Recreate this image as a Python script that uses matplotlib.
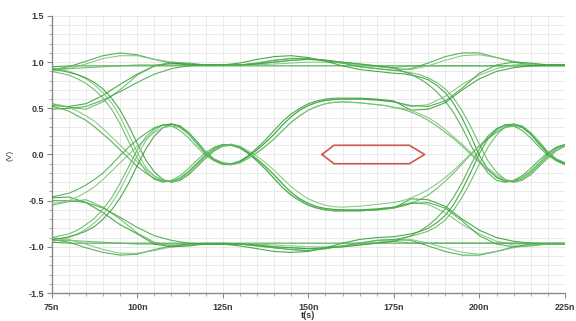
import matplotlib
matplotlib.use("Agg")
import matplotlib.pyplot as plt
from matplotlib.ticker import MultipleLocator, FixedLocator

# ---------------- data ----------------
# time grids (ns) for the three sections; coarse = 5 ns, fine = 2.5 ns
t_left_coarse = [75, 80, 85, 90, 95, 100, 105, 110, 115, 120, 125]
t_left_fine = [75, 77.5, 80, 82.5, 85, 87.5, 90, 92.5, 95, 97.5, 100,
               102.5, 105, 107.5, 110, 112.5, 115, 117.5, 120, 122.5, 125]
t_mid_coarse = [130, 135, 140, 145, 150, 155, 160, 165, 170, 175]
t_mid_fine = [127.5, 130, 132.5, 135, 137.5, 140, 142.5, 145, 147.5, 150,
              152.5, 155, 157.5, 160, 162.5, 165, 167.5, 170, 172.5, 175]
t_right_coarse = [180, 185, 190, 195, 200, 205, 210, 215, 220, 225]
t_right_fine = [177.5, 180, 182.5, 185, 187.5, 190, 192.5, 195, 197.5, 200,
                202.5, 205, 207.5, 210, 212.5, 215, 217.5, 220, 222.5, 225]

# left section, upper start
UL_flat1 = [0.95, 0.96, 0.96, 0.96, 0.96, 0.96, 0.96, 0.96, 0.96, 0.96, 0.96]
UL_flat2 = [0.93, 0.93, 0.94, 0.95, 0.96, 0.97, 0.97, 0.97, 0.97, 0.97, 0.97]
UL_arch1 = [0.92, 0.95, 1.01, 1.07, 1.10, 1.08, 1.03, 0.99, 0.97, 0.965, 0.965]
UL_arch2 = [0.91, 0.93, 0.98, 1.04, 1.07, 1.07, 1.03, 1.00, 0.98, 0.97, 0.97]
UL_rise1 = [0.53, 0.52, 0.55, 0.64, 0.76, 0.87, 0.96, 0.99, 0.98, 0.97, 0.97]
UL_rise2 = [0.55, 0.51, 0.49, 0.57, 0.70, 0.86, 0.96, 1.00, 0.99, 0.97, 0.97]
UL_rise3 = [0.49, 0.50, 0.52, 0.59, 0.68, 0.78, 0.87, 0.93, 0.96, 0.97, 0.97]
UL_fall1 = [0.94, 0.925, 0.90, 0.865, 0.82, 0.755, 0.67, 0.56, 0.41, 0.22, 0.02,
            -0.14, -0.24, -0.29, -0.29, -0.25, -0.18, -0.09, 0.00, 0.07, 0.105]
UL_fall2 = [0.92, 0.91, 0.89, 0.865, 0.83, 0.78, 0.71, 0.61, 0.48, 0.31, 0.12,
            -0.06, -0.19, -0.27, -0.30, -0.28, -0.22, -0.13, -0.04, 0.04, 0.09]
UL_fall3 = [0.90, 0.88, 0.86, 0.82, 0.77, 0.70, 0.61, 0.49, 0.33, 0.14, -0.04,
            -0.18, -0.27, -0.30, -0.28, -0.23, -0.15, -0.06, 0.02, 0.08, 0.11]
UL_hfall1 = [0.52, 0.50, 0.47, 0.42, 0.37, 0.30, 0.22, 0.14, 0.05, -0.04, -0.13,
             -0.20, -0.26, -0.29, -0.29, -0.26, -0.19, -0.10, -0.01, 0.06, 0.10]
UL_hfall2 = [0.55, 0.535, 0.51, 0.47, 0.42, 0.36, 0.28, 0.19, 0.10, 0.01, -0.08,
             -0.16, -0.23, -0.28, -0.30, -0.27, -0.21, -0.12, -0.02, 0.05, 0.09]

# left section, lower start
LL_flat1 = [-0.95, -0.96, -0.96, -0.96, -0.96, -0.96, -0.96, -0.96, -0.96, -0.96, -0.96]
LL_flat2 = [-0.93, -0.93, -0.94, -0.95, -0.96, -0.97, -0.97, -0.97, -0.97, -0.96, -0.96]
LL_arch1 = [-0.92, -0.95, -1.01, -1.06, -1.09, -1.08, -1.03, -0.99, -0.97, -0.965, -0.965]
LL_arch2 = [-0.90, -0.92, -0.97, -1.03, -1.07, -1.07, -1.04, -1.00, -0.98, -0.97, -0.97]
LL_fall1 = [-0.47, -0.46, -0.52, -0.63, -0.76, -0.86, -0.97, -1.00, -0.99, -0.97, -0.97]
LL_fall2 = [-0.55, -0.51, -0.49, -0.57, -0.70, -0.85, -0.95, -0.99, -0.98, -0.97, -0.97]
LL_fall3 = [-0.50, -0.50, -0.52, -0.58, -0.68, -0.79, -0.88, -0.93, -0.96, -0.97, -0.97]
LL_rise1 = [-0.94, -0.925, -0.90, -0.86, -0.81, -0.74, -0.65, -0.53, -0.38, -0.20, -0.01,
            0.15, 0.26, 0.32, 0.33, 0.30, 0.22, 0.11, 0.01, -0.06, -0.10]
LL_rise2 = [-0.92, -0.91, -0.89, -0.865, -0.83, -0.78, -0.70, -0.60, -0.47, -0.31, -0.12,
            0.06, 0.20, 0.29, 0.33, 0.31, 0.24, 0.14, 0.03, -0.05, -0.09]
LL_rise3 = [-0.90, -0.88, -0.86, -0.82, -0.76, -0.69, -0.59, -0.47, -0.31, -0.13, 0.05,
            0.19, 0.28, 0.32, 0.31, 0.26, 0.18, 0.08, -0.01, -0.07, -0.11]
LL_hrise1 = [-0.46, -0.44, -0.42, -0.38, -0.33, -0.27, -0.20, -0.11, -0.01, 0.08, 0.16,
             0.23, 0.29, 0.32, 0.33, 0.30, 0.22, 0.12, 0.01, -0.06, -0.10]
LL_hrise2 = [-0.53, -0.52, -0.50, -0.46, -0.41, -0.35, -0.27, -0.18, -0.09, 0.00, 0.09,
             0.17, 0.24, 0.29, 0.31, 0.29, 0.22, 0.12, 0.02, -0.05, -0.09]

# middle section
MT_flat = [0.96, 0.96, 0.96, 0.96, 0.96, 0.96, 0.96, 0.96, 0.96, 0.96]
MT_b = [0.99, 1.03, 1.06, 1.07, 1.05, 1.01, 0.96, 0.92, 0.90, 0.88]
MT_c = [0.97, 0.99, 1.02, 1.04, 1.04, 1.02, 0.99, 0.95, 0.93, 0.91]
MT_d = [0.97, 0.98, 1.00, 1.02, 1.03, 1.02, 1.00, 0.98, 0.96, 0.94]
MT_e = [0.97, 0.97, 0.98, 0.99, 1.00, 1.00, 0.99, 0.97, 0.95, 0.93]
MB_flat = [-0.96, -0.96, -0.96, -0.96, -0.96, -0.96, -0.96, -0.96, -0.96, -0.96]
MB_b = [-0.99, -1.02, -1.05, -1.06, -1.05, -1.01, -0.96, -0.92, -0.90, -0.89]
MB_c = [-0.97, -0.99, -1.01, -1.03, -1.04, -1.02, -0.99, -0.96, -0.93, -0.92]
MB_d = [-0.97, -0.98, -1.00, -1.01, -1.02, -1.01, -1.00, -0.98, -0.96, -0.94]
MB_e = [-0.97, -0.97, -0.98, -0.99, -1.00, -1.00, -0.99, -0.97, -0.95, -0.93]
MN_a = [0.11, 0.08, 0.02, -0.05, -0.13, -0.22, -0.32, -0.41, -0.48, -0.53,
        -0.565, -0.585, -0.595, -0.60, -0.60, -0.60, -0.595, -0.59, -0.58, -0.57]
MN_b = [0.10, 0.07, 0.01, -0.07, -0.16, -0.26, -0.36, -0.44, -0.50, -0.55,
        -0.58, -0.60, -0.61, -0.61, -0.61, -0.61, -0.605, -0.60, -0.59, -0.58]
MN_c = [0.11, 0.09, 0.04, -0.02, -0.09, -0.17, -0.26, -0.35, -0.42, -0.48,
        -0.52, -0.55, -0.565, -0.57, -0.565, -0.56, -0.55, -0.54, -0.53, -0.52]
MP_a = [-0.11, -0.08, -0.02, 0.05, 0.13, 0.22, 0.32, 0.41, 0.48, 0.53,
        0.565, 0.585, 0.595, 0.60, 0.60, 0.60, 0.595, 0.59, 0.58, 0.57]
MP_b = [-0.10, -0.07, -0.01, 0.07, 0.16, 0.26, 0.36, 0.44, 0.50, 0.55,
        0.58, 0.60, 0.61, 0.61, 0.61, 0.61, 0.605, 0.60, 0.59, 0.58]
MP_c = [-0.11, -0.09, -0.04, 0.02, 0.09, 0.17, 0.26, 0.35, 0.42, 0.48,
        0.52, 0.55, 0.565, 0.57, 0.565, 0.56, 0.55, 0.54, 0.53, 0.51]

# right section
RT_flat = [0.96, 0.96, 0.96, 0.96, 0.96, 0.96, 0.96, 0.96, 0.96, 0.96]
RT_arch1 = [0.93, 0.99, 1.06, 1.10, 1.10, 1.05, 1.00, 0.97, 0.965, 0.965]
RT_arch2 = [0.92, 0.96, 1.02, 1.07, 1.08, 1.05, 1.01, 0.98, 0.97, 0.97]
RT_fall1 = [0.875, 0.86, 0.84, 0.81, 0.75, 0.67, 0.55, 0.39, 0.20, -0.01,
            -0.16, -0.25, -0.29, -0.29, -0.25, -0.18, -0.09, 0.00, 0.07, 0.105]
RT_fall2 = [0.90, 0.885, 0.865, 0.83, 0.78, 0.71, 0.61, 0.47, 0.30, 0.11,
            -0.07, -0.19, -0.27, -0.30, -0.28, -0.22, -0.13, -0.04, 0.04, 0.09]
RT_fall3 = [0.90, 0.87, 0.82, 0.76, 0.68, 0.58, 0.45, 0.29, 0.10, -0.07,
            -0.20, -0.28, -0.30, -0.28, -0.23, -0.15, -0.06, 0.02, 0.08, 0.11]
RH_rise1 = [0.52, 0.54, 0.63, 0.76, 0.86, 0.93, 0.97, 0.98, 0.97, 0.97]
RH_rise2 = [0.48, 0.49, 0.56, 0.70, 0.82, 0.90, 0.94, 0.96, 0.97, 0.97]
RH_rise3 = [0.53, 0.52, 0.58, 0.72, 0.88, 0.97, 1.00, 0.99, 0.97, 0.97]
RH_fall1 = [0.49, 0.46, 0.42, 0.37, 0.31, 0.24, 0.17, 0.09, 0.00, -0.09,
            -0.17, -0.24, -0.28, -0.30, -0.27, -0.20, -0.11, -0.02, 0.05, 0.09]
RH_fall2 = [0.50, 0.48, 0.44, 0.40, 0.34, 0.27, 0.19, 0.11, 0.02, -0.07,
            -0.15, -0.22, -0.27, -0.29, -0.27, -0.21, -0.12, -0.02, 0.05, 0.10]
RB_flat = [-0.96, -0.96, -0.96, -0.96, -0.96, -0.96, -0.96, -0.96, -0.96, -0.96]
RB_arch1 = [-0.93, -0.99, -1.05, -1.09, -1.09, -1.05, -1.00, -0.97, -0.965, -0.965]
RB_arch2 = [-0.92, -0.96, -1.01, -1.06, -1.08, -1.05, -1.01, -0.98, -0.97, -0.97]
RB_rise1 = [-0.875, -0.86, -0.835, -0.80, -0.74, -0.66, -0.54, -0.38, -0.19, 0.01,
            0.17, 0.27, 0.32, 0.33, 0.30, 0.22, 0.11, 0.01, -0.06, -0.10]
RB_rise2 = [-0.905, -0.885, -0.86, -0.83, -0.78, -0.71, -0.60, -0.46, -0.29, -0.10,
            0.08, 0.21, 0.30, 0.33, 0.31, 0.24, 0.14, 0.03, -0.05, -0.09]
RB_rise3 = [-0.91, -0.88, -0.83, -0.77, -0.69, -0.59, -0.46, -0.30, -0.11, 0.06,
            0.20, 0.28, 0.32, 0.31, 0.26, 0.18, 0.08, -0.01, -0.07, -0.11]
RL_fall1 = [-0.52, -0.54, -0.63, -0.76, -0.86, -0.94, -0.98, -0.98, -0.97, -0.97]
RL_fall2 = [-0.48, -0.49, -0.56, -0.70, -0.82, -0.90, -0.94, -0.96, -0.97, -0.97]
RL_fall3 = [-0.53, -0.52, -0.58, -0.72, -0.88, -0.97, -1.00, -0.99, -0.97, -0.97]
RL_rise1 = [-0.50, -0.47, -0.43, -0.38, -0.32, -0.25, -0.17, -0.08, 0.01, 0.10,
            0.18, 0.25, 0.30, 0.32, 0.30, 0.22, 0.12, 0.02, -0.05, -0.10]
RL_rise2 = [-0.56, -0.53, -0.49, -0.44, -0.37, -0.29, -0.20, -0.10, 0.00, 0.09,
            0.17, 0.24, 0.29, 0.31, 0.29, 0.22, 0.12, 0.02, -0.05, -0.09]

# how the sections join into complete traces
traces = [
    (UL_flat1, MT_flat, RT_flat), (UL_flat2, MT_d, RT_flat),
    (UL_arch1, MT_c, RT_arch1), (UL_arch2, MT_e, RT_arch2),
    (UL_rise1, MT_b, RT_fall1), (UL_rise2, MT_c, RT_fall2),
    (UL_rise3, MT_d, RT_fall3),
    (UL_fall1, MN_a, RL_fall1), (UL_fall2, MN_b, RL_fall2),
    (UL_fall3, MN_b, RL_rise2), (UL_hfall1, MN_a, RL_fall3),
    (UL_hfall2, MN_c, RL_rise1),
    (LL_flat1, MB_flat, RB_flat), (LL_flat2, MB_d, RB_flat),
    (LL_arch1, MB_c, RB_arch1), (LL_arch2, MB_e, RB_arch2),
    (LL_fall1, MB_b, RB_rise1), (LL_fall2, MB_c, RB_rise2),
    (LL_fall3, MB_d, RB_rise3),
    (LL_rise1, MP_a, RH_rise1), (LL_rise2, MP_b, RH_rise2),
    (LL_rise3, MP_c, RH_fall1), (LL_hrise1, MP_a, RH_rise3),
    (LL_hrise2, MP_c, RH_fall2),
]

# eye mask (hexagon)
mask_t = [154, 157.5, 179.5, 184, 179.5, 157.5, 154]
mask_v = [0.0, 0.1, 0.1, 0.0, -0.1, -0.1, 0.0]

x_ticks = [75, 100, 125, 150, 175, 200, 225]
x_labels = ["75n", "100n", "125n", "150n", "175n", "200n", "225n"]
y_ticks = [-1.5, -1.0, -0.5, 0.0, 0.5, 1.0, 1.5]
y_labels = ["-1.5", "-1.0", "-0.5", "0.0", "0.5", "1.0", "1.5"]

# ---------------- drawing ----------------
plt.rcParams["font.family"] = ["Liberation Sans", "DejaVu Sans"]

fig = plt.figure(figsize=(5.76, 3.21), dpi=100)
ax = fig.add_axes([0.0898, 0.0872, 0.891, 0.863])


def grid_for(seg, coarse, fine):
    return coarse if len(seg) == len(coarse) else fine


greens = ["#2e9a2e", "#5bb55b", "#3fa53f", "#78c278"]
for i, (a, b, c) in enumerate(traces):
    xs = (grid_for(a, t_left_coarse, t_left_fine)
          + grid_for(b, t_mid_coarse, t_mid_fine)
          + grid_for(c, t_right_coarse, t_right_fine))
    ys = list(a) + list(b) + list(c)
    ax.plot(xs, ys, color=greens[i % 4], lw=0.8, alpha=0.85,
            solid_joinstyle="round", zorder=3)

ax.plot(mask_t, mask_v, color="#cc5a4c", lw=1.2, zorder=4)

ax.set_xlim(75, 225)
ax.set_ylim(-1.5, 1.5)
ax.xaxis.set_major_locator(FixedLocator(x_ticks))
ax.set_xticklabels(x_labels)
ax.xaxis.set_minor_locator(MultipleLocator(5))
ax.yaxis.set_major_locator(FixedLocator(y_ticks))
ax.set_yticklabels(y_labels)
ax.yaxis.set_minor_locator(MultipleLocator(0.1))

ax.grid(which="both", color="#e6e6e6", lw=0.6, zorder=0)
ax.set_axisbelow(True)
for s in ["top", "right"]:
    ax.spines[s].set_visible(False)
for s in ["left", "bottom"]:
    ax.spines[s].set_color("#8a8a8a")
    ax.spines[s].set_linewidth(1.0)

ax.tick_params(which="major", direction="out", length=3.5, width=0.8,
               color="#8a8a8a", labelsize=6.5, labelcolor="#3a3a3a")
ax.tick_params(which="minor", direction="out", length=2, width=0.6,
               color="#9a9a9a")
ax.tick_params(axis="x", which="major", pad=4)
ax.tick_params(axis="y", which="major", pad=2)
for lab in ax.get_xticklabels() + ax.get_yticklabels():
    lab.set_fontweight("bold")

fig.text(10 / 576, 1 - 155 / 321, "(V)", rotation=90, ha="center",
         va="center", fontsize=6, color="#3a3a3a")
fig.text(308 / 576, 1 - 315.5 / 321, "t(s)", ha="center", va="center",
         fontsize=6.5, color="#3a3a3a", fontweight="bold")

fig.savefig("out.png", dpi=100, facecolor="white")
